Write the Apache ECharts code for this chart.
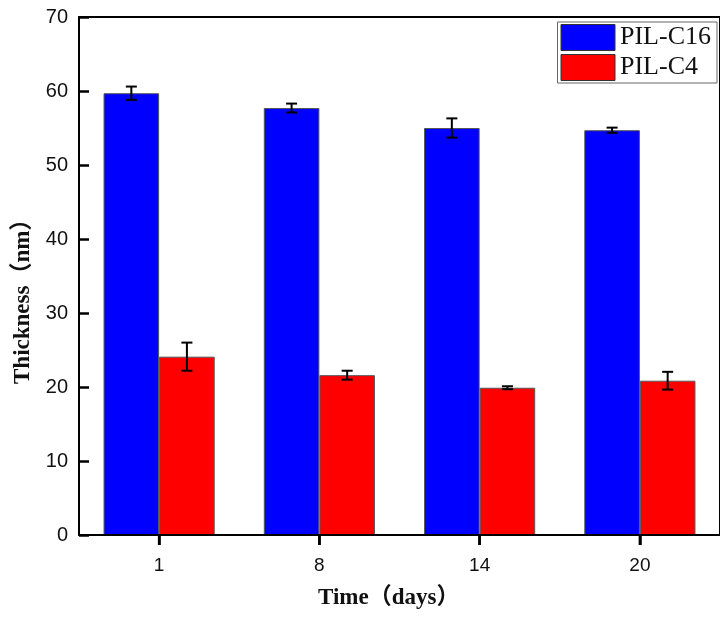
<!DOCTYPE html>
<html>
<head>
<meta charset="utf-8">
<script src="https://cdn.jsdelivr.net/npm/echarts@6/dist/echarts.min.js"></script>
<style>
  html, body { margin: 0; padding: 0; background: #fff; }
  #chart { width: 720px; height: 618px; }
</style>
</head>
<body>
<div id="chart"></div>
<script>
// Film thickness over time for two ionic-liquid polymers
const days = ['1', '8', '14', '20'];
const c16Mean = [59.7, 57.7, 55.0, 54.7];
const c16Err = [0.9, 0.6, 1.3, 0.35];
const c4Mean = [24.1, 21.6, 19.9, 20.85];
const c4Err = [1.9, 0.6, 0.2, 1.2];
const yTicks = [0, 10, 20, 30, 40, 50, 60, 70];

const serif = '"Liberation Serif", "Noto Sans CJK SC", serif';
const sans = '"Liberation Sans", Arial, sans-serif';

// Error bar drawn as a vertical whisker with caps, offset to the bar of its series
function errorBars(means, errs, offsetSign) {
  return {
    type: 'custom',
    z: 10,
    data: means.map((m, i) => [i, m - errs[i], m + errs[i]]),
    renderItem: function (params, api) {
      const i = api.value(0);
      const lo = api.coord([i, api.value(1)]);
      const hi = api.coord([i, api.value(2)]);
      const band = api.size([1, 0])[0];
      const barW = band * 0.3468;
      const x = lo[0] + offsetSign * barW / 2;
      const cap = 5.5;
      const style = { stroke: '#000', lineWidth: 2, fill: null };
      return {
        type: 'group',
        children: [
          { type: 'line', shape: { x1: x, y1: lo[1], x2: x, y2: hi[1] }, style },
          { type: 'line', shape: { x1: x - cap, y1: lo[1], x2: x + cap, y2: lo[1] }, style },
          { type: 'line', shape: { x1: x - cap, y1: hi[1], x2: x + cap, y2: hi[1] }, style }
        ]
      };
    }
  };
}

// Outward tick marks under each day on the bottom axis
const dayTicks = {
  type: 'custom',
  z: 10,
  clip: false,
  silent: true,
  data: days.map((d, i) => [i, yTicks[0]]),
  renderItem: function (params, api) {
    const p = api.coord([api.value(0), api.value(1)]);
    return {
      type: 'line',
      shape: { x1: p[0], y1: p[1], x2: p[0], y2: p[1] + 10 },
      style: { stroke: '#000', lineWidth: 2.5 }
    };
  }
};

const frameLine = { show: true, onZero: false, lineStyle: { color: '#000', width: 2 } };
const tickStyle = { color: '#000', width: 2.5 };

const chart = echarts.init(document.getElementById('chart'));
chart.setOption({
  animation: false,
  backgroundColor: '#fff',
  grid: { left: 79, top: 17, width: 645, height: 518 },
  legend: {
    right: 3, top: 22,
    orient: 'vertical',
    icon: 'rect',
    itemWidth: 54, itemHeight: 26, itemGap: 3,
    padding: [2, 6, 2, 3],
    borderColor: '#666', borderWidth: 1,
    backgroundColor: '#fff',
    textStyle: { fontFamily: serif, fontSize: 26, color: '#111' },
    itemStyle: { borderColor: '#333', borderWidth: 1 },
    data: ['PIL-C16', 'PIL-C4']
  },
  xAxis: [
    {
      type: 'category',
      data: days,
      position: 'bottom',
      z: 5,
      axisLine: frameLine,
      axisTick: { show: true, alignWithLabel: true, length: 10, lineStyle: tickStyle },
      axisLabel: { fontFamily: sans, fontSize: 19, color: '#111', margin: 21 }
    },
    {
      type: 'category',
      data: days,
      position: 'top',
      axisLine: frameLine,
      axisTick: { show: false },
      axisLabel: { show: false }
    }
  ],
  yAxis: [
    {
      type: 'value',
      position: 'left',
      z: 5,
      min: yTicks[0], max: yTicks[yTicks.length - 1], interval: 10,
      splitLine: { show: false },
      axisLine: frameLine,
      axisTick: { show: true, inside: true, length: 10, lineStyle: tickStyle },
      axisLabel: { fontFamily: sans, fontSize: 20, color: '#111', margin: 11 }
    },
    {
      type: 'value',
      position: 'right',
      min: yTicks[0], max: yTicks[yTicks.length - 1], interval: 10,
      splitLine: { show: false },
      axisLine: frameLine,
      axisTick: { show: false },
      axisLabel: { show: false }
    }
  ],
  graphic: [
    {
      type: 'text', left: 318, top: 587,
      style: { text: 'Time（days）', font: 'bold 23px ' + serif, fill: '#111' }
    },
    {
      type: 'text', x: 12, y: 384, rotation: Math.PI / 2,
      style: { text: 'Thickness（nm）', font: 'bold 23px ' + serif, fill: '#111',
               align: 'left', verticalAlign: 'top' }
    }
  ],
  series: [
    {
      name: 'PIL-C16', type: 'bar', data: c16Mean,
      barWidth: '34.68%', barGap: '0%',
      itemStyle: { color: '#0000ff', borderColor: '#555', borderWidth: 1 }
    },
    {
      name: 'PIL-C4', type: 'bar', data: c4Mean,
      barWidth: '34.68%', barGap: '0%',
      itemStyle: { color: '#ff0000', borderColor: '#555', borderWidth: 1 }
    },
    errorBars(c16Mean, c16Err, -1),
    errorBars(c4Mean, c4Err, 1),
    dayTicks
  ]
});
</script>
</body>
</html>
